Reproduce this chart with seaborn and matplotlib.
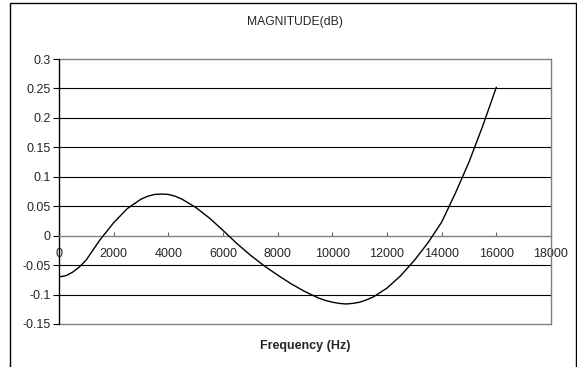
import numpy as np
import pandas as pd
import seaborn as sns
import matplotlib.pyplot as plt
from matplotlib.patches import Rectangle

# magnitude response (denser near the turning points)
freq = [0, 250, 500, 750, 1000, 1500, 2000, 2500, 3000, 3250, 3500, 3750,
        4000, 4250, 4500, 5000, 5500, 6000, 6500, 7000, 7500, 8000, 8500,
        9000, 9500, 9750, 10000, 10250, 10500, 10750, 11000, 11250, 11500,
        12000, 12500, 13000, 13500, 14000, 14500, 15000, 15500, 16000]
mag_db = [-0.070, -0.068, -0.062, -0.053, -0.041, -0.007, 0.022, 0.046,
          0.062, 0.067, 0.070, 0.0707, 0.070, 0.067, 0.062, 0.048, 0.030,
          0.009, -0.013, -0.033, -0.051, -0.067, -0.082, -0.095, -0.106,
          -0.110, -0.113, -0.115, -0.116, -0.115, -0.113, -0.109, -0.104,
          -0.089, -0.068, -0.042, -0.012, 0.023, 0.072, 0.125, 0.186, 0.252]

x_ticks = list(range(0, 18001, 2000))
y_ticks = [-0.15, -0.1, -0.05, 0, 0.05, 0.1, 0.15, 0.2, 0.25, 0.3]
y_labels = ["-0.15", "-0.1", "-0.05", "0", "0.05", "0.1", "0.15", "0.2", "0.25", "0.3"]

sns.set_style("white")
plt.rcParams["font.family"] = ["Liberation Sans", "DejaVu Sans"]

W, H = 577, 367
fig = plt.figure(figsize=(W / 100, H / 100), dpi=100)
ax = fig.add_axes([59 / W, 1 - 324 / H, (551 - 59) / W, (324 - 59) / H])

# outer chart border
fig.patches.append(Rectangle((10 / W, -0.05), (576 - 10) / W, 1.05 - 3 / H,
                             transform=fig.transFigure, fill=False,
                             edgecolor="black", linewidth=1.0))

df = pd.DataFrame({"Frequency": freq, "Magnitude": mag_db})
sns.lineplot(data=df, x="Frequency", y="Magnitude", ax=ax, color="black",
             linewidth=1.0, zorder=3)

ax.set_xlim(0, 18000)
ax.set_ylim(-0.15, 0.3)
ax.set_xticks(x_ticks)
ax.set_xticklabels([str(t) for t in x_ticks])
ax.set_yticks(y_ticks)
ax.set_yticklabels(y_labels)

for yv in y_ticks[1:-1]:
    if yv != 0:
        ax.axhline(yv, color="black", linewidth=0.8, zorder=0)
# plot area frame
ax.axhline(-0.15, color="#808080", linewidth=1.0, clip_on=False, zorder=1)
ax.axhline(0.3, color="#808080", linewidth=1.0, clip_on=False, zorder=1)

ax.spines["bottom"].set_position(("data", 0))
ax.spines["bottom"].set_color("#808080")
ax.spines["left"].set_color("black")
ax.spines["left"].set_zorder(2)
ax.spines["right"].set_color("#808080")
ax.spines["top"].set_visible(False)
for s in ax.spines.values():
    s.set_linewidth(1.0)

ax.tick_params(axis="x", direction="in", length=3, width=0.8, color="#606060",
               labelsize=9, pad=9, bottom=True)
ax.tick_params(axis="y", direction="out", length=4, width=0.8, color="black",
               labelsize=9, pad=2, left=True)

ax.set_xlabel("Frequency (Hz)", fontsize=9, fontweight="bold")
ax.xaxis.set_label_coords(0.5, -0.082)
ax.xaxis.label.set_va("center")
ax.set_ylabel("")

fig.text(294.5 / W, 1 - 22 / H, "MAGNITUDE(dB)", ha="center", va="center", fontsize=8.7)

fig.savefig("out.png", dpi=100)
